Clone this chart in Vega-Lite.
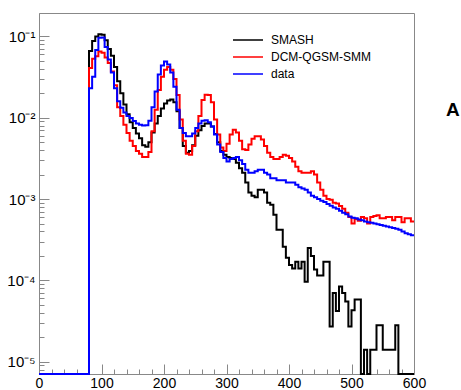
{
"$schema": "https://vega.github.io/schema/vega-lite/v6.json",
"width": 375, "height": 361,
"autosize": {"type": "none"},
"padding": {"left": 39, "top": 13, "right": 47, "bottom": 16},
"background": "white",
"config": {"view": {"stroke": "#888888", "strokeWidth": 1}, "font": "Liberation Sans"},
"data": {"values": [
{"x":0,"SMASH":1e-6,"DCM-QGSM-SMM":1e-6,"data":1e-6},
{"x":5,"SMASH":1e-6,"DCM-QGSM-SMM":1e-6,"data":1e-6},
{"x":10,"SMASH":1e-6,"DCM-QGSM-SMM":1e-6,"data":1e-6},
{"x":15,"SMASH":1e-6,"DCM-QGSM-SMM":1e-6,"data":1e-6},
{"x":20,"SMASH":1e-6,"DCM-QGSM-SMM":1e-6,"data":1e-6},
{"x":25,"SMASH":1e-6,"DCM-QGSM-SMM":1e-6,"data":1e-6},
{"x":30,"SMASH":1e-6,"DCM-QGSM-SMM":1e-6,"data":1e-6},
{"x":35,"SMASH":1e-6,"DCM-QGSM-SMM":1e-6,"data":1e-6},
{"x":40,"SMASH":1e-6,"DCM-QGSM-SMM":1e-6,"data":1e-6},
{"x":45,"SMASH":1e-6,"DCM-QGSM-SMM":1e-6,"data":1e-6},
{"x":50,"SMASH":1e-6,"DCM-QGSM-SMM":1e-6,"data":1e-6},
{"x":55,"SMASH":1e-6,"DCM-QGSM-SMM":1e-6,"data":1e-6},
{"x":60,"SMASH":1e-6,"DCM-QGSM-SMM":1e-6,"data":1e-6},
{"x":65,"SMASH":1e-6,"DCM-QGSM-SMM":1e-6,"data":1e-6},
{"x":70,"SMASH":1e-6,"DCM-QGSM-SMM":1e-6,"data":1e-6},
{"x":75,"SMASH":1e-6,"DCM-QGSM-SMM":1e-6,"data":1e-6},
{"x":80,"SMASH":0.066,"DCM-QGSM-SMM":0.041,"data":0.023},
{"x":85,"SMASH":0.088,"DCM-QGSM-SMM":0.053,"data":0.032},
{"x":90,"SMASH":0.100,"DCM-QGSM-SMM":0.057,"data":0.068},
{"x":95,"SMASH":0.106,"DCM-QGSM-SMM":0.065,"data":0.096},
{"x":100,"SMASH":0.105,"DCM-QGSM-SMM":0.063,"data":0.097},
{"x":105,"SMASH":0.090,"DCM-QGSM-SMM":0.055,"data":0.074},
{"x":110,"SMASH":0.070,"DCM-QGSM-SMM":0.047,"data":0.052},
{"x":115,"SMASH":0.058,"DCM-QGSM-SMM":0.037,"data":0.036},
{"x":120,"SMASH":0.042,"DCM-QGSM-SMM":0.025,"data":0.023},
{"x":125,"SMASH":0.028,"DCM-QGSM-SMM":0.0135,"data":0.016},
{"x":130,"SMASH":0.020,"DCM-QGSM-SMM":0.0105,"data":0.0133},
{"x":135,"SMASH":0.0145,"DCM-QGSM-SMM":0.0082,"data":0.0116},
{"x":140,"SMASH":0.011,"DCM-QGSM-SMM":0.0065,"data":0.0105},
{"x":145,"SMASH":0.0088,"DCM-QGSM-SMM":0.0052,"data":0.0099},
{"x":150,"SMASH":0.0075,"DCM-QGSM-SMM":0.0045,"data":0.0091},
{"x":155,"SMASH":0.0064,"DCM-QGSM-SMM":0.0039,"data":0.0085},
{"x":160,"SMASH":0.0056,"DCM-QGSM-SMM":0.0036,"data":0.0082},
{"x":165,"SMASH":0.0046,"DCM-QGSM-SMM":0.0033,"data":0.0080},
{"x":170,"SMASH":0.0044,"DCM-QGSM-SMM":0.0033,"data":0.0081},
{"x":175,"SMASH":0.0050,"DCM-QGSM-SMM":0.0038,"data":0.0092},
{"x":180,"SMASH":0.0066,"DCM-QGSM-SMM":0.0068,"data":0.0135},
{"x":185,"SMASH":0.0085,"DCM-QGSM-SMM":0.0125,"data":0.021},
{"x":190,"SMASH":0.0105,"DCM-QGSM-SMM":0.022,"data":0.034},
{"x":195,"SMASH":0.013,"DCM-QGSM-SMM":0.032,"data":0.044},
{"x":200,"SMASH":0.015,"DCM-QGSM-SMM":0.039,"data":0.049},
{"x":205,"SMASH":0.0163,"DCM-QGSM-SMM":0.042,"data":0.045},
{"x":210,"SMASH":0.0168,"DCM-QGSM-SMM":0.039,"data":0.036},
{"x":215,"SMASH":0.0155,"DCM-QGSM-SMM":0.030,"data":0.024},
{"x":220,"SMASH":0.012,"DCM-QGSM-SMM":0.019,"data":0.0125},
{"x":225,"SMASH":0.0075,"DCM-QGSM-SMM":0.0095,"data":0.0075},
{"x":230,"SMASH":0.0045,"DCM-QGSM-SMM":0.0052,"data":0.0065},
{"x":235,"SMASH":0.0037,"DCM-QGSM-SMM":0.0036,"data":0.0059},
{"x":240,"SMASH":0.0039,"DCM-QGSM-SMM":0.0035,"data":0.0059},
{"x":245,"SMASH":0.0046,"DCM-QGSM-SMM":0.0045,"data":0.0064},
{"x":250,"SMASH":0.0060,"DCM-QGSM-SMM":0.0068,"data":0.0075},
{"x":255,"SMASH":0.0070,"DCM-QGSM-SMM":0.0105,"data":0.0085},
{"x":260,"SMASH":0.0079,"DCM-QGSM-SMM":0.0165,"data":0.0092},
{"x":265,"SMASH":0.0085,"DCM-QGSM-SMM":0.0192,"data":0.0093},
{"x":270,"SMASH":0.0085,"DCM-QGSM-SMM":0.019,"data":0.0088},
{"x":275,"SMASH":0.0078,"DCM-QGSM-SMM":0.0155,"data":0.0078},
{"x":280,"SMASH":0.0063,"DCM-QGSM-SMM":0.0095,"data":0.0062},
{"x":285,"SMASH":0.0050,"DCM-QGSM-SMM":0.0062,"data":0.0047},
{"x":290,"SMASH":0.0039,"DCM-QGSM-SMM":0.0043,"data":0.0038},
{"x":295,"SMASH":0.0035,"DCM-QGSM-SMM":0.0039,"data":0.0032},
{"x":300,"SMASH":0.0033,"DCM-QGSM-SMM":0.0048,"data":0.0029},
{"x":305,"SMASH":0.0032,"DCM-QGSM-SMM":0.0062,"data":0.0031},
{"x":310,"SMASH":0.0031,"DCM-QGSM-SMM":0.0071,"data":0.0032},
{"x":315,"SMASH":0.0028,"DCM-QGSM-SMM":0.0066,"data":0.0033},
{"x":320,"SMASH":0.0024,"DCM-QGSM-SMM":0.0052,"data":0.0030},
{"x":325,"SMASH":0.0021,"DCM-QGSM-SMM":0.0041,"data":0.0027},
{"x":330,"SMASH":0.0016,"DCM-QGSM-SMM":0.0040,"data":0.0023},
{"x":335,"SMASH":0.0012,"DCM-QGSM-SMM":0.0047,"data":0.0021},
{"x":340,"SMASH":0.0011,"DCM-QGSM-SMM":0.0055,"data":0.0021},
{"x":345,"SMASH":0.00105,"DCM-QGSM-SMM":0.0059,"data":0.0022},
{"x":350,"SMASH":0.0013,"DCM-QGSM-SMM":0.0059,"data":0.0023},
{"x":355,"SMASH":0.0013,"DCM-QGSM-SMM":0.0054,"data":0.0023},
{"x":360,"SMASH":0.0012,"DCM-QGSM-SMM":0.0045,"data":0.0021},
{"x":365,"SMASH":0.0009,"DCM-QGSM-SMM":0.0037,"data":0.0020},
{"x":370,"SMASH":0.00085,"DCM-QGSM-SMM":0.0033,"data":0.0018},
{"x":375,"SMASH":0.00064,"DCM-QGSM-SMM":0.0031,"data":0.0018},
{"x":380,"SMASH":0.00042,"DCM-QGSM-SMM":0.0031,"data":0.0017},
{"x":385,"SMASH":0.00042,"DCM-QGSM-SMM":0.0033,"data":0.0017},
{"x":390,"SMASH":0.00026,"DCM-QGSM-SMM":0.0035,"data":0.0017},
{"x":395,"SMASH":0.00019,"DCM-QGSM-SMM":0.0034,"data":0.0016},
{"x":400,"SMASH":0.000155,"DCM-QGSM-SMM":0.0032,"data":0.0016},
{"x":405,"SMASH":0.00014,"DCM-QGSM-SMM":0.0029,"data":0.0016},
{"x":410,"SMASH":0.00017,"DCM-QGSM-SMM":0.0025,"data":0.0015},
{"x":415,"SMASH":0.00014,"DCM-QGSM-SMM":0.0022,"data":0.0014},
{"x":420,"SMASH":0.00017,"DCM-QGSM-SMM":0.0021,"data":0.00135},
{"x":425,"SMASH":0.000096,"DCM-QGSM-SMM":0.0021,"data":0.0013},
{"x":430,"SMASH":0.00025,"DCM-QGSM-SMM":0.0021,"data":0.0012},
{"x":435,"SMASH":0.0002,"DCM-QGSM-SMM":0.0022,"data":0.0011},
{"x":440,"SMASH":0.000136,"DCM-QGSM-SMM":0.0020,"data":0.00105},
{"x":445,"SMASH":0.000115,"DCM-QGSM-SMM":0.0016,"data":0.0010},
{"x":450,"SMASH":0.000115,"DCM-QGSM-SMM":0.0013,"data":0.00095},
{"x":455,"SMASH":0.00017,"DCM-QGSM-SMM":0.0011,"data":0.00092},
{"x":460,"SMASH":0.00017,"DCM-QGSM-SMM":0.0010,"data":0.00087},
{"x":465,"SMASH":0.000027,"DCM-QGSM-SMM":0.00098,"data":0.00083},
{"x":470,"SMASH":0.00007,"DCM-QGSM-SMM":0.0009,"data":0.00079},
{"x":475,"SMASH":0.000042,"DCM-QGSM-SMM":0.00088,"data":0.00076},
{"x":480,"SMASH":0.000084,"DCM-QGSM-SMM":0.00082,"data":0.00072},
{"x":485,"SMASH":0.00007,"DCM-QGSM-SMM":0.00076,"data":0.00068},
{"x":490,"SMASH":0.000055,"DCM-QGSM-SMM":0.00068,"data":0.00065},
{"x":495,"SMASH":0.000027,"DCM-QGSM-SMM":0.0006,"data":0.00061},
{"x":500,"SMASH":0.000043,"DCM-QGSM-SMM":0.0005,"data":0.00059},
{"x":505,"SMASH":0.000058,"DCM-QGSM-SMM":0.00057,"data":0.00058},
{"x":510,"SMASH":0.000058,"DCM-QGSM-SMM":0.00054,"data":0.00056},
{"x":515,"SMASH":1e-6,"DCM-QGSM-SMM":0.0006,"data":0.00055},
{"x":520,"SMASH":0.000014,"DCM-QGSM-SMM":0.00058,"data":0.00053},
{"x":525,"SMASH":1e-6,"DCM-QGSM-SMM":0.0005,"data":0.00052},
{"x":530,"SMASH":0.000014,"DCM-QGSM-SMM":0.0006,"data":0.00051},
{"x":535,"SMASH":0.000014,"DCM-QGSM-SMM":0.00062,"data":0.0005},
{"x":540,"SMASH":0.000028,"DCM-QGSM-SMM":0.00063,"data":0.00049},
{"x":545,"SMASH":0.000028,"DCM-QGSM-SMM":0.00058,"data":0.00048},
{"x":550,"SMASH":0.000014,"DCM-QGSM-SMM":0.00058,"data":0.00047},
{"x":555,"SMASH":0.000014,"DCM-QGSM-SMM":0.0006,"data":0.00046},
{"x":560,"SMASH":0.000014,"DCM-QGSM-SMM":0.0006,"data":0.00045},
{"x":565,"SMASH":0.000014,"DCM-QGSM-SMM":0.00055,"data":0.00044},
{"x":570,"SMASH":0.000028,"DCM-QGSM-SMM":0.0006,"data":0.00043},
{"x":575,"SMASH":1e-6,"DCM-QGSM-SMM":0.0006,"data":0.00042},
{"x":580,"SMASH":1e-6,"DCM-QGSM-SMM":0.00052,"data":0.0004},
{"x":585,"SMASH":1e-6,"DCM-QGSM-SMM":0.00058,"data":0.00038},
{"x":590,"SMASH":1e-6,"DCM-QGSM-SMM":0.00058,"data":0.00037},
{"x":595,"SMASH":1e-6,"DCM-QGSM-SMM":0.00053,"data":0.00036},
{"x":600,"SMASH":1e-6,"DCM-QGSM-SMM":0.00053,"data":0.00036}
]},
"resolve": {"axis": {"x": "independent", "y": "independent"}},
"layer": [
{
"transform": [{"fold": ["SMASH", "DCM-QGSM-SMM", "data"], "as": ["series", "y"]}],
"mark": {"type": "line", "interpolate": "step-after", "strokeWidth": 2, "strokeJoin": "miter"},
"encoding": {
"x": {"field": "x", "type": "quantitative",
 "scale": {"domain": [0, 600], "nice": false, "zero": false},
 "axis": {"title": null, "grid": false, "orient": "bottom",
  "values": [0,100,200,300,400,500,600],
  "tickSize": -10, "tickWidth": 1,
  "domainColor": "#888888", "tickColor": "#888888", "labelColor": "#000000",
  "labelFontSize": 14, "labelFont": "Liberation Sans", "labelPadding": 12,
  "labelFlush": false, "labelOverlap": false, "format": "d"}},
"y": {"field": "y", "type": "quantitative",
 "scale": {"type": "log", "domain": [7.06e-6, 0.194], "nice": false, "clamp": true},
 "axis": {"title": null, "grid": false, "orient": "left",
  "values": [0.00001, 0.0001, 0.001, 0.01, 0.1],
  "labelExpr": "datum.value == 0.1 ? '10⁻¹' : datum.value == 0.01 ? '10⁻²' : datum.value == 0.001 ? '10⁻³' : datum.value == 0.0001 ? '10⁻⁴' : '10⁻⁵'",
  "tickSize": -10, "tickWidth": 1,
  "domainColor": "#888888", "tickColor": "#888888", "labelColor": "#000000",
  "labelFontSize": 15, "labelFont": "Liberation Sans", "labelPadding": 14,
  "labelFlush": false, "labelOverlap": false}},
"color": {"field": "series", "type": "nominal",
 "scale": {"domain": ["SMASH", "DCM-QGSM-SMM", "data"], "range": ["#000000", "#ff0000", "#0000ff"]},
 "legend": {"title": null, "orient": "none", "legendX": 203, "legendY": 21,
  "symbolType": "M-3,0H3", "symbolSize": 100, "symbolStrokeWidth": 1.5,
  "labelFontSize": 12, "labelFont": "Liberation Sans", "labelColor": "#000000",
  "labelOffset": 17, "rowPadding": 5, "padding": 0}}
}
},
{
"data": {"values": [{"label": "A"}]},
"mark": {"type": "text", "fontSize": 19, "fontWeight": "bold", "font": "Liberation Sans", "align": "center", "baseline": "middle", "color": "#000000"},
"encoding": {
"x": {"datum": 662,
 "axis": {"orient": "bottom", "title": null, "grid": false, "labels": false, "domain": false,
  "values": [20,40,60,80,120,140,160,180,220,240,260,280,320,340,360,380,420,440,460,480,520,540,560,580],
  "tickSize": -5, "tickWidth": 1, "tickColor": "#888888"}},
"y": {"datum": 0.0125,
 "axis": {"orient": "left", "title": null, "grid": false, "labels": false, "domain": false,
  "values": [8e-6,9e-6,2e-5,3e-5,4e-5,5e-5,6e-5,7e-5,8e-5,9e-5,2e-4,3e-4,4e-4,5e-4,6e-4,7e-4,8e-4,9e-4,0.002,0.003,0.004,0.005,0.006,0.007,0.008,0.009,0.02,0.03,0.04,0.05,0.06,0.07,0.08,0.09],
  "tickSize": -5, "tickWidth": 1, "tickColor": "#888888"}},
"text": {"field": "label", "type": "nominal"}
}
}
]
}
